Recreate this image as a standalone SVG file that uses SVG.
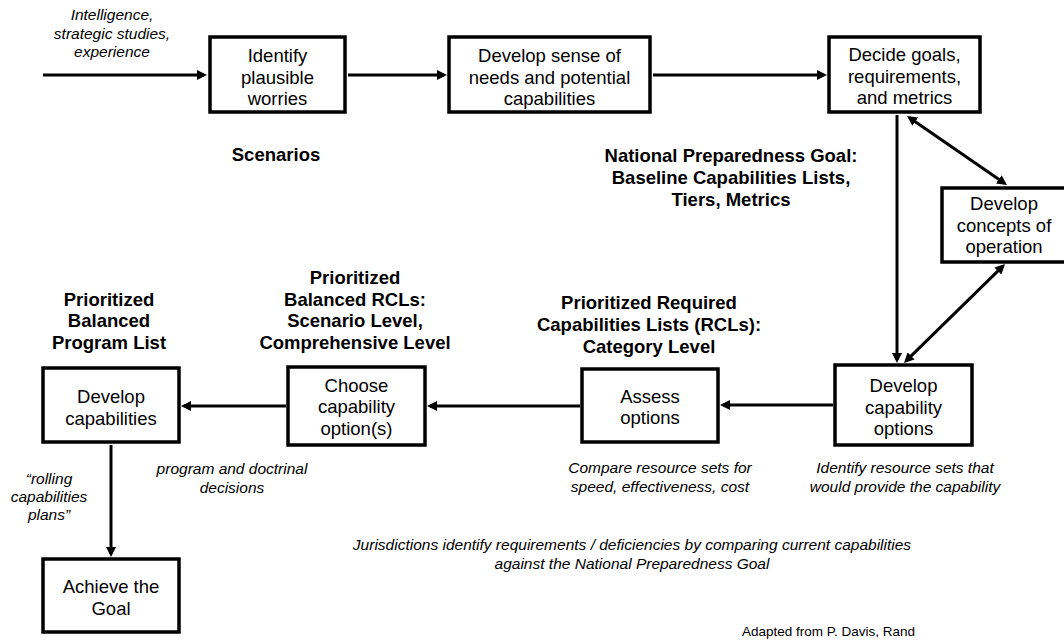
<svg xmlns="http://www.w3.org/2000/svg" width="1064" height="640" viewBox="0 0 1064 640">
  <style>
    text { font-family: "Liberation Sans", Arial, sans-serif; fill: #000; text-anchor: middle; }
    .node rect { fill: #fff; stroke: #000; stroke-width: 3.5; }
    .node text { font-size: 18.5px; }
    .head { font-size: 18.5px; font-weight: bold; }
    .note { font-size: 15.5px; font-style: italic; }
    .credit { font-size: 13.5px; text-anchor: end; }
    .links line { stroke: #000; stroke-width: 3; fill: none; }
  </style>
  <defs>
    <marker id="ah" viewBox="0 0 10 10" refX="7" refY="5" markerWidth="10" markerHeight="10" markerUnits="userSpaceOnUse" orient="auto-start-reverse">
      <path d="M0,0 L10,5 L0,10 z" fill="#000"/>
    </marker>
  </defs>
  <rect width="1064" height="640" fill="#fff"/>

  <!-- connectors -->
  <g class="links">
    <line x1="43" y1="75" x2="204" y2="75" marker-end="url(#ah)"/>
    <line x1="348" y1="75" x2="444" y2="75" marker-end="url(#ah)"/>
    <line x1="653" y1="75" x2="824" y2="75" marker-end="url(#ah)"/>
    <line x1="897" y1="115" x2="897" y2="360" marker-end="url(#ah)"/>
    <line x1="909.5" y1="117.7" x2="1004.5" y2="183.3" marker-start="url(#ah)" marker-end="url(#ah)"/>
    <line x1="1002.9" y1="266.1" x2="906.1" y2="360.9" marker-start="url(#ah)" marker-end="url(#ah)"/>
    <line x1="833" y1="405" x2="723" y2="405" marker-end="url(#ah)"/>
    <line x1="580" y1="406" x2="430" y2="406" marker-end="url(#ah)"/>
    <line x1="286" y1="406" x2="184" y2="406" marker-end="url(#ah)"/>
    <line x1="111" y1="445" x2="111" y2="554" marker-end="url(#ah)"/>
  </g>

  <!-- process boxes -->
  <g id="identify-worries" class="node">
    <rect x="210" y="37" width="135" height="75"/>
    <text x="277.5" y="62">Identify</text>
    <text x="277.5" y="83.5">plausible</text>
    <text x="277.5" y="105">worries</text>
  </g>
  <g id="develop-sense" class="node">
    <rect x="449" y="37" width="201" height="75"/>
    <text x="549.5" y="62">Develop sense of</text>
    <text x="549.5" y="83.5">needs and potential</text>
    <text x="549.5" y="105">capabilities</text>
  </g>
  <g id="decide-goals" class="node">
    <rect x="829" y="37" width="151" height="75"/>
    <text x="904.5" y="61">Decide goals,</text>
    <text x="904.5" y="82.5">requirements,</text>
    <text x="904.5" y="104">and metrics</text>
  </g>
  <g id="concepts-of-operation" class="node">
    <rect x="942" y="188" width="130" height="74"/>
    <text x="1004" y="210">Develop</text>
    <text x="1004" y="231.5">concepts of</text>
    <text x="1004" y="253">operation</text>
  </g>
  <g id="capability-options" class="node">
    <rect x="835" y="365" width="137" height="80"/>
    <text x="903.5" y="392">Develop</text>
    <text x="903.5" y="413.5">capability</text>
    <text x="903.5" y="435">options</text>
  </g>
  <g id="assess-options" class="node">
    <rect x="582" y="369" width="136" height="73"/>
    <text x="650" y="402.5">Assess</text>
    <text x="650" y="424">options</text>
  </g>
  <g id="choose-option" class="node">
    <rect x="288" y="367" width="137" height="78"/>
    <text x="356.5" y="391.5">Choose</text>
    <text x="356.5" y="413">capability</text>
    <text x="356.5" y="434.5">option(s)</text>
  </g>
  <g id="develop-capabilities" class="node">
    <rect x="43" y="368" width="136" height="74"/>
    <text x="111" y="403">Develop</text>
    <text x="111" y="424.5">capabilities</text>
  </g>
  <g id="achieve-goal" class="node">
    <rect x="43" y="559" width="136" height="73"/>
    <text x="111" y="593">Achieve the</text>
    <text x="111" y="614.5">Goal</text>
  </g>

  <!-- bold products -->
  <g id="scenarios-label">
    <text class="head" x="276" y="161">Scenarios</text>
  </g>
  <g id="npg-label">
    <text class="head" x="731" y="161.5">National Preparedness Goal:</text>
    <text class="head" x="731" y="183.5">Baseline Capabilities Lists,</text>
    <text class="head" x="731" y="205.5">Tiers, Metrics</text>
  </g>
  <g id="rcl-category-label">
    <text class="head" x="649" y="309">Prioritized Required</text>
    <text class="head" x="649" y="331">Capabilities Lists (RCLs):</text>
    <text class="head" x="649" y="353">Category Level</text>
  </g>
  <g id="rcl-balanced-label">
    <text class="head" x="355" y="284">Prioritized</text>
    <text class="head" x="355" y="305.5">Balanced RCLs:</text>
    <text class="head" x="355" y="327">Scenario Level,</text>
    <text class="head" x="355" y="348.5">Comprehensive Level</text>
  </g>
  <g id="program-list-label">
    <text class="head" x="109" y="305.5">Prioritized</text>
    <text class="head" x="109" y="327">Balanced</text>
    <text class="head" x="109" y="348.5">Program List</text>
  </g>

  <!-- italic annotations -->
  <g id="inputs-note">
    <text class="note" x="112" y="20">Intelligence,</text>
    <text class="note" x="112" y="38.5">strategic studies,</text>
    <text class="note" x="112" y="57">experience</text>
  </g>
  <g id="decisions-note">
    <text class="note" x="232" y="474">program and doctrinal</text>
    <text class="note" x="232" y="492.5">decisions</text>
  </g>
  <g id="rolling-note">
    <text class="note" x="49" y="484">“rolling</text>
    <text class="note" x="49" y="502">capabilities</text>
    <text class="note" x="49" y="520">plans”</text>
  </g>
  <g id="compare-note">
    <text class="note" x="660" y="473">Compare resource sets for</text>
    <text class="note" x="660" y="492">speed, effectiveness, cost</text>
  </g>
  <g id="resource-note">
    <text class="note" x="905" y="473">Identify resource sets that</text>
    <text class="note" x="905" y="492">would provide the capability</text>
  </g>
  <g id="jurisdictions-note">
    <text class="note" x="632" y="550">Jurisdictions identify requirements / deficiencies by comparing current capabilities</text>
    <text class="note" x="632" y="568.5">against the National Preparedness Goal</text>
  </g>
  <text class="credit" x="915" y="636">Adapted from P. Davis, Rand</text>
</svg>
